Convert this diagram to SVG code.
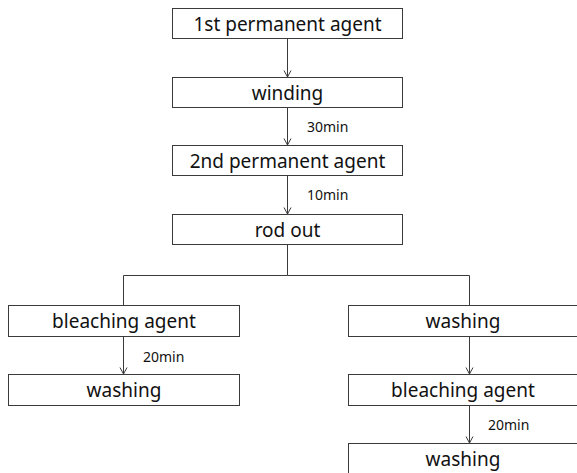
<svg xmlns="http://www.w3.org/2000/svg" width="577" height="473" viewBox="0 0 577 473">
<style>
.box{fill:#fff;stroke:#3a3a3a;stroke-width:1}
.t{font-family:"Noto Sans","Liberation Sans",sans-serif;font-size:19px;fill:#111;text-anchor:middle;dominant-baseline:central}
.l{font-family:"Noto Sans","Liberation Sans",sans-serif;font-size:14px;fill:#111}
.c{fill:none;stroke:#3a3a3a;stroke-width:1}
</style>
<defs>
<marker id="ah" markerWidth="10" markerHeight="10" refX="8" refY="5" orient="auto" markerUnits="userSpaceOnUse" viewBox="0 0 10 10">
<path d="M1.5,1.5 L8,5 L1.5,8.5" fill="none" stroke="#3a3a3a" stroke-width="1"/>
</marker>
</defs>
<rect width="577" height="473" fill="#fff"/>
<g id="connectors">
<line class="c" x1="287.5" y1="39" x2="287.5" y2="77" marker-end="url(#ah)"/>
<line class="c" x1="287.5" y1="108" x2="287.5" y2="145" marker-end="url(#ah)"/>
<line class="c" x1="287.5" y1="176" x2="287.5" y2="214" marker-end="url(#ah)"/>
<polyline class="c" points="287.5,245 287.5,275.5 123.5,275.5 123.5,305"/>
<polyline class="c" points="287.5,275.5 469.5,275.5 469.5,305"/>
<line class="c" x1="123.5" y1="337" x2="123.5" y2="374" marker-end="url(#ah)"/>
<line class="c" x1="469.5" y1="337" x2="469.5" y2="374" marker-end="url(#ah)"/>
<line class="c" x1="469.5" y1="405" x2="469.5" y2="443" marker-end="url(#ah)"/>
<text class="l" x="307" y="132">30min</text>
<text class="l" x="307" y="200">10min</text>
<text class="l" x="143" y="362">20min</text>
<text class="l" x="488" y="430">20min</text>
</g>
<g id="n1"><rect class="box" x="172.5" y="8.5" width="230" height="30"/><text class="t" x="287.5" y="23.5">1st permanent agent</text></g>
<g id="n2"><rect class="box" x="172.5" y="77.5" width="230" height="30"/><text class="t" x="287.5" y="92.5">winding</text></g>
<g id="n3"><rect class="box" x="172.5" y="145.5" width="230" height="30"/><text class="t" x="287.5" y="160.5">2nd permanent agent</text></g>
<g id="n4"><rect class="box" x="172.5" y="214.5" width="230" height="30"/><text class="t" x="287.5" y="229.5">rod out</text></g>
<g id="n5"><rect class="box" x="8.5" y="305.5" width="231" height="31"/><text class="t" x="124" y="321">bleaching agent</text></g>
<g id="n6"><rect class="box" x="8.5" y="374.5" width="231" height="31"/><text class="t" x="124" y="390">washing</text></g>
<g id="n7"><rect class="box" x="348.5" y="305.5" width="240" height="31"/><text class="t" x="463" y="321">washing</text></g>
<g id="n8"><rect class="box" x="348.5" y="374.5" width="240" height="31"/><text class="t" x="463" y="390">bleaching agent</text></g>
<g id="n9"><rect class="box" x="348.5" y="443.5" width="240" height="31"/><text class="t" x="463" y="459">washing</text></g>
</svg>
